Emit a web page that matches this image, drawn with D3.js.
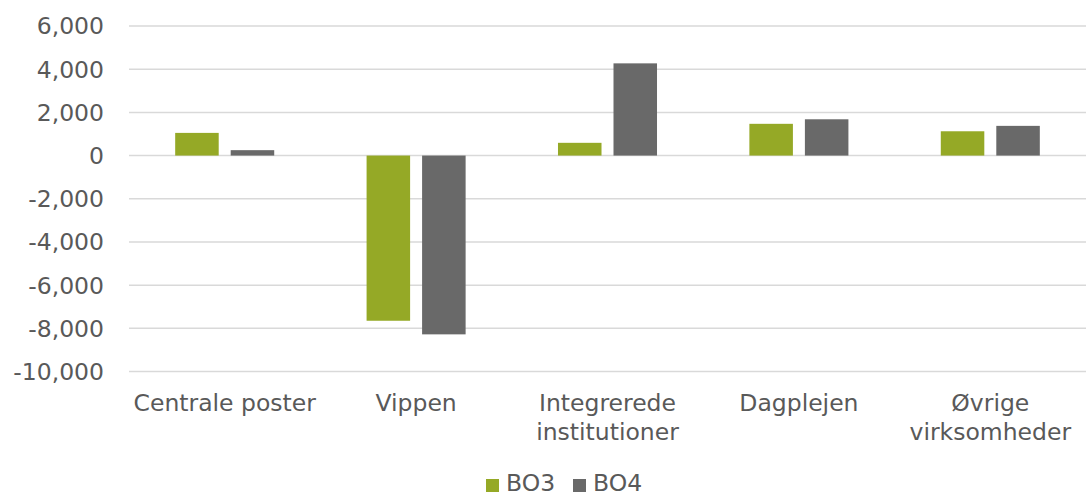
<!DOCTYPE html>
<html>
<head>
  <style>
    body { margin: 0; background: #fff; }
    text { font-family: Verdana, "DejaVu Sans", sans-serif; fill: #595959; }
  </style>
</head>
<body>
  <script src="https://d3js.org/d3.v7.min.js"></script>
  <script>
    // chart values
    const categories = ["Centrale poster", "Vippen", "Integrerede institutioner", "Dagplejen", "Øvrige virksomheder"];
    const categoryLines = [["Centrale poster"], ["Vippen"], ["Integrerede", "institutioner"], ["Dagplejen"], ["Øvrige", "virksomheder"]];
    const seriesNames = ["BO3", "BO4"];
    const bo3 = [1050, -7650, 590, 1470, 1125];
    const bo4 = [250, -8280, 4270, 1680, 1375];
    const yTicks = [6000, 4000, 2000, 0, -2000, -4000, -6000, -8000, -10000];
    const colors = ["#95A926", "#696969"];

    const width = 1086, height = 495;
    const plotLeft = 129, plotRight = 1086, plotTop = 26, plotBottom = 371.5;
    const fontSize = '23.5px';

    const svg = d3.select('body').append('svg')
      .attr('width', width)
      .attr('height', height);

    const y = d3.scaleLinear().domain([-10000, 6000]).range([plotBottom, plotTop]);
    const x0 = d3.scaleBand().domain(categories).range([plotLeft, plotRight]);
    const x1 = d3.scaleBand().domain(seriesNames).range([0, x0.bandwidth()])
      .paddingInner(0.216).paddingOuter(0.832);

    // gridlines
    svg.append('g').selectAll('line')
      .data(yTicks)
      .enter().append('line')
      .attr('x1', plotLeft).attr('x2', plotRight)
      .attr('y1', d => y(d)).attr('y2', d => y(d))
      .attr('stroke', '#d9d9d9')
      .attr('stroke-width', 1.5);

    // y tick labels
    svg.append('g').selectAll('text')
      .data(yTicks)
      .enter().append('text')
      .attr('x', 104)
      .attr('y', d => y(d))
      .attr('dy', '0.36em')
      .attr('text-anchor', 'end')
      .style('font-size', fontSize)
      .text(d => d3.format(',')(d).replace('−', '-'));

    // bars
    const rows = categories.map((c, i) => ({ cat: c, values: [bo3[i], bo4[i]] }));
    const groups = svg.append('g').selectAll('g')
      .data(rows)
      .enter().append('g')
      .attr('transform', d => 'translate(' + x0(d.cat) + ',0)');

    groups.selectAll('rect')
      .data(d => d.values.map((v, j) => ({ s: seriesNames[j], v: v, j: j })))
      .enter().append('rect')
      .attr('x', d => x1(d.s))
      .attr('width', x1.bandwidth())
      .attr('y', d => y(Math.max(0, d.v)))
      .attr('height', d => Math.abs(y(d.v) - y(0)))
      .attr('fill', d => colors[d.j]);

    // category labels
    const catLabels = svg.append('g').selectAll('text')
      .data(categories)
      .enter().append('text')
      .attr('text-anchor', 'middle')
      .attr('transform', d => 'translate(' + (x0(d) + x0.bandwidth() / 2) + ',411)')
      .style('font-size', fontSize);
    catLabels.each(function(d, i) {
      d3.select(this).selectAll('tspan')
        .data(categoryLines[i])
        .enter().append('tspan')
        .attr('x', 0)
        .attr('y', (t, k) => k * 29)
        .text(t => t);
    });

    // legend
    const legend = svg.append('g');
    const legendX = [486, 573];
    seriesNames.forEach(function(name, i) {
      legend.append('rect')
        .attr('x', legendX[i]).attr('y', 479)
        .attr('width', 13).attr('height', 13)
        .attr('fill', colors[i]);
      legend.append('text')
        .attr('x', legendX[i] + 20).attr('y', 491)
        .style('font-size', fontSize)
        .text(name);
    });
  </script>
</body>
</html>
